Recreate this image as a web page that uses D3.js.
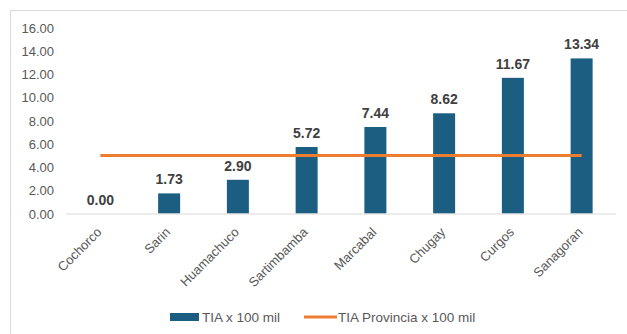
<!DOCTYPE html>
<html>
<head>
<meta charset="utf-8">
<script src="https://cdn.jsdelivr.net/npm/d3@7"></script>
<style>
  html, body { margin: 0; padding: 0; background: #fff; }
  svg { display: block; font-family: "Liberation Sans", Arial, sans-serif; }
</style>
</head>
<body>
<svg id="chart" width="627" height="334"></svg>
<script>
// Districts and their incidence rate per 100k, plus the province-wide rate
const categories = ["Cochorco", "Sarin", "Huamachuco", "Sartimbamba", "Marcabal", "Chugay", "Curgos", "Sanagoran"];
const tiaValues = [0.00, 1.73, 2.90, 5.72, 7.44, 8.62, 11.67, 13.34];
const provinceValues = [5.0, 5.0, 5.0, 5.0, 5.0, 5.0, 5.0, 5.0];
const yTicks = [0, 2, 4, 6, 8, 10, 12, 14, 16];
const seriesNames = ["TIA x 100 mil", "TIA Provincia x 100 mil"];

const svg = d3.select("#chart");
const W = 627, H = 334;
const plot = { left: 66, right: 616, top: 27.5, bottom: 213.5 };
const barColor = "#1B5E82";
const lineColor = "#ED7D31";

// outer chart frame
svg.append("rect")
  .attr("x", 10.5).attr("y", 10.5)
  .attr("width", W).attr("height", H)
  .attr("fill", "none").attr("stroke", "#D9D9D9").attr("stroke-width", 1);

const x = d3.scaleBand().domain(categories).range([plot.left, plot.right]).paddingInner(0.68).paddingOuter(0.34);
const y = d3.scaleLinear().domain([0, 16]).range([plot.bottom, plot.top]);

// y axis labels
const yAxis = svg.append("g")
  .attr("transform", `translate(${plot.left - 12},0)`)
  .call(d3.axisLeft(y).tickValues(yTicks).tickFormat(d3.format(".2f")).tickSize(0).tickPadding(0));
yAxis.select(".domain").remove();
yAxis.selectAll("text").attr("fill", "#595959").attr("font-size", 13).attr("dy", "0.36em");

// bars
svg.append("g").selectAll("rect")
  .data(tiaValues)
  .join("rect")
  .attr("x", (d, i) => x(categories[i]))
  .attr("y", d => y(d))
  .attr("width", x.bandwidth())
  .attr("height", d => y(0) - y(d))
  .attr("fill", barColor);

// baseline
svg.append("line")
  .attr("x1", plot.left).attr("x2", plot.right)
  .attr("y1", y(0) + 0.5).attr("y2", y(0) + 0.5)
  .attr("stroke", "#D9D9D9").attr("stroke-width", 1);

// province line
const cx = c => x(c) + x.bandwidth() / 2;
svg.append("path")
  .datum(provinceValues)
  .attr("d", d3.line().x((d, i) => cx(categories[i])).y(d => y(d)))
  .attr("fill", "none").attr("stroke", lineColor).attr("stroke-width", 3);

// value labels
svg.append("g").selectAll("text")
  .data(tiaValues)
  .join("text")
  .attr("x", (d, i) => cx(categories[i]))
  .attr("y", d => y(d) - 9)
  .attr("text-anchor", "middle")
  .attr("font-size", 14).attr("font-weight", "bold").attr("fill", "#404040")
  .text(d => d3.format(".2f")(d));

// x axis category labels, rotated
svg.append("g").selectAll("text")
  .data(categories)
  .join("text")
  .attr("transform", d => `translate(${cx(d) + 2},${plot.bottom + 19.5}) rotate(-45)`)
  .attr("text-anchor", "end")
  .attr("font-size", 13).attr("fill", "#595959")
  .text(d => d);

// legend
const leg = svg.append("g").attr("transform", "translate(0,317)");
leg.append("rect").attr("x", 170).attr("y", -4).attr("width", 29).attr("height", 8).attr("fill", barColor);
leg.append("text").attr("x", 202).attr("y", 0).attr("dy", "0.36em")
  .attr("font-size", 13.5).attr("fill", "#595959").text(seriesNames[0]);
leg.append("line").attr("x1", 304).attr("x2", 337).attr("y1", 0).attr("y2", 0)
  .attr("stroke", lineColor).attr("stroke-width", 3);
leg.append("text").attr("x", 338).attr("y", 0).attr("dy", "0.36em")
  .attr("font-size", 13.5).attr("fill", "#595959").text(seriesNames[1]);
</script>
</body>
</html>
